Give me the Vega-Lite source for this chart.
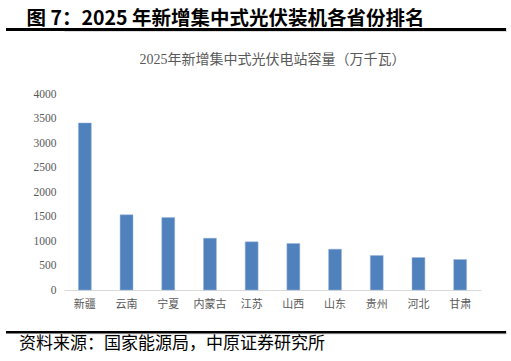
{
  "$schema": "https://vega.github.io/schema/vega-lite/v6.json",
  "padding": {"left": 5, "right": 6, "top": 9, "bottom": 2},
  "background": "white",
  "title": {
    "text": "图 7：2025 年新增集中式光伏装机各省份排名",
    "anchor": "start",
    "dx": 21,
    "offset": -2,
    "font": "Noto Sans CJK SC",
    "fontWeight": "bold",
    "fontSize": 19.5,
    "color": "#000000"
  },
  "spacing": 21,
  "vconcat": [
    {
      "width": 442,
      "height": 3,
      "data": {"values": [{"a": 0, "b": 1}]},
      "mark": {"type": "rect", "color": "#000000", "clip": false},
      "encoding": {
        "x": {"field": "a", "type": "quantitative", "scale": {"domain": [0, 1], "range": [-58, 442]}, "axis": null},
        "x2": {"field": "b"},
        "y": {"field": "a", "type": "quantitative", "scale": {"domain": [0, 1]}, "axis": null},
        "y2": {"field": "b"}
      }
    },
    {
      "width": 417,
      "height": 196,
      "title": {
        "text": "2025年新增集中式光伏电站容量（万千瓦）",
        "anchor": "middle",
        "font": "Liberation Serif, Noto Sans CJK SC",
        "fontSize": 14,
        "fontWeight": "normal",
        "color": "#595959",
        "offset": 21
      },
      "view": {"stroke": null},
      "data": {
        "values": [
          {"province": "新疆", "capacity": 3410},
          {"province": "云南", "capacity": 1535},
          {"province": "宁夏", "capacity": 1478},
          {"province": "内蒙古", "capacity": 1057},
          {"province": "江苏", "capacity": 984},
          {"province": "山西", "capacity": 949},
          {"province": "山东", "capacity": 833},
          {"province": "贵州", "capacity": 704},
          {"province": "河北", "capacity": 663},
          {"province": "甘肃", "capacity": 622}
        ]
      },
      "mark": {"type": "bar", "color": "#4F81BD", "stroke": "#9DB6DA", "strokeWidth": 0.5},
      "encoding": {
        "x": {
          "field": "province",
          "type": "nominal",
          "sort": null,
          "scale": {"paddingInner": 0.69, "paddingOuter": 0.345},
          "axis": {
            "title": null,
            "labelAngle": 0,
            "ticks": false,
            "domainColor": "#D9D9D9",
            "domainWidth": 1,
            "labelColor": "#595959",
            "labelFont": "Liberation Serif, Noto Sans CJK SC",
            "labelFontSize": 11,
            "labelPadding": 8
          }
        },
        "y": {
          "field": "capacity",
          "type": "quantitative",
          "scale": {"domain": [0, 4000], "nice": false},
          "axis": {
            "title": null,
            "values": [0, 500, 1000, 1500, 2000, 2500, 3000, 3500, 4000],
            "format": "d",
            "grid": false,
            "domain": false,
            "ticks": false,
            "labelColor": "#595959",
            "labelFont": "Liberation Serif",
            "labelFontSize": 11.5,
            "labelPadding": 8,
            "minExtent": 58
          }
        }
      }
    },
    {
      "width": 442,
      "height": 2.5,
      "title": {
        "text": "资料来源：国家能源局，中原证券研究所",
        "orient": "bottom",
        "anchor": "start",
        "dx": 13,
        "offset": 2,
        "font": "Noto Sans CJK SC",
        "fontWeight": "normal",
        "fontSize": 17,
        "color": "#000000"
      },
      "data": {"values": [{"a": 0, "b": 1}]},
      "mark": {"type": "rect", "color": "#000000", "clip": false},
      "encoding": {
        "x": {"field": "a", "type": "quantitative", "scale": {"domain": [0, 1], "range": [-58, 442]}, "axis": null},
        "x2": {"field": "b"},
        "y": {"field": "a", "type": "quantitative", "scale": {"domain": [0, 1]}, "axis": null},
        "y2": {"field": "b"}
      }
    }
  ]
}
